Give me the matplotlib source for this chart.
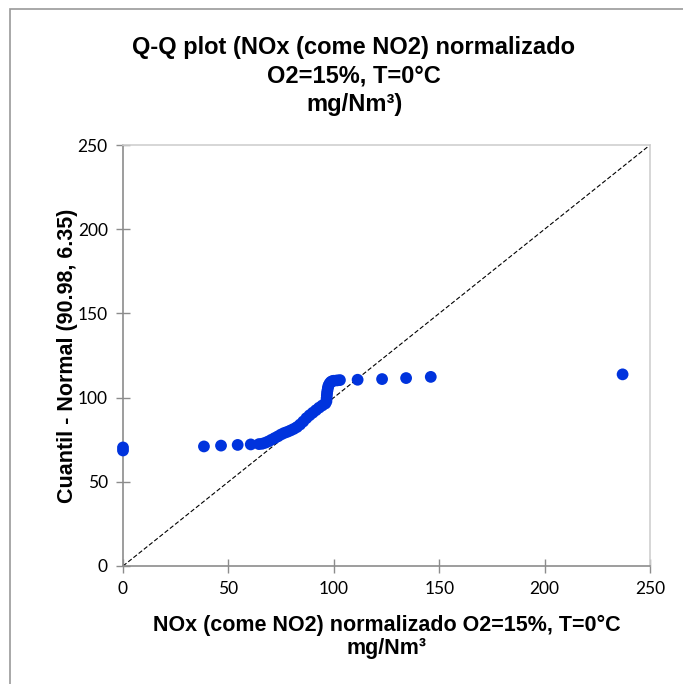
import matplotlib
matplotlib.use("Agg")
import matplotlib.pyplot as plt
from matplotlib.patches import Rectangle

# observed NOx values (sorted) and the matching normal quantiles N(90.98, 6.35)
nox_obs = [0, 0, 38.4, 46.5, 54.4, 60.6,
           64.5, 66, 67.5, 69, 70.5, 72, 73.5, 75, 76.5, 78, 79.5, 81,
           82.5, 84, 85.5, 87, 88.5, 90, 91.5, 93, 94.5, 96, 96.5, 96.6,
           96.7, 96.8, 97.0, 97.2, 97.5, 98.0, 98.6, 99.3, 100, 101.5,
           102.9, 111.3, 122.9, 134.3, 146.0, 237.0]
norm_q = [68.6, 70.4, 71.0, 71.5, 71.9, 72.2,
          72.4, 72.6, 73.2, 74.0, 75.0, 76.0, 77.0, 78.1, 79.0, 79.7, 80.5, 81.4,
          82.5, 84.0, 85.8, 87.8, 89.5, 91.0, 92.5, 94.0, 95.3, 96.5, 97.8, 99.5,
          101.2, 102.8, 104.3, 105.8, 107.2, 108.4, 109.3, 109.8, 110.0, 110.2,
          110.4, 110.6, 111.0, 111.6, 112.3, 113.8]

ticks = [0, 50, 100, 150, 200, 250]

title = "Q-Q plot (NOx (come NO2) normalizado\nO2=15%, T=0°C\nmg/Nm³)"
xlabel = "NOx (come NO2) normalizado O2=15%, T=0°C\nmg/Nm³"
ylabel = "Cuantil - Normal (90.98, 6.35)"

fig = plt.figure(figsize=(6.83, 6.84), dpi=100)
W, H = 683, 684

# outer chart frame (cut off at right/bottom like the screenshot)
fig.patches.append(Rectangle((10 / W, -0.05), 1.1, 1 - 9 / H + 0.05,
                             transform=fig.transFigure, fill=False,
                             edgecolor="#999999", linewidth=1.2))

ax = fig.add_axes([123 / W, (H - 566) / H, 527 / W, 421 / H])

ax.plot([0, 250], [0, 250], color="black", linestyle=(0, (4, 2)), linewidth=0.8, zorder=2)
ax.scatter(nox_obs, norm_q, s=72, color="#0033dd", edgecolors="none", zorder=3, clip_on=False)

ax.set_xlim(0, 250)
ax.set_ylim(0, 250)
ax.set_xticks(ticks)
ax.set_yticks(ticks)

tick_font = {"family": "Lato", "size": 12.5}
ax.set_xticklabels([str(t) for t in ticks], fontdict=tick_font)
ax.set_yticklabels([str(t) for t in ticks], fontdict=tick_font)
ax.tick_params(direction="inout", length=10, width=1, color="#8c8c8c", pad=6)

for side in ["left", "bottom"]:
    ax.spines[side].set_color("#8c8c8c")
    ax.spines[side].set_linewidth(1.2)
for side in ["top", "right"]:
    ax.spines[side].set_color("#d0d0d0")
    ax.spines[side].set_linewidth(1.2)

lab_font = {"family": "Liberation Sans", "weight": "bold", "size": 15.5}
ax.set_xlabel(xlabel, fontdict=lab_font, labelpad=13, linespacing=1.1)
ax.set_ylabel(ylabel, fontdict=lab_font, labelpad=0)

fig.text(354 / W, 1 - 36 / H, title, ha="center", va="top",
         family="Liberation Sans", weight="bold", fontsize=17, linespacing=1.3)

fig.savefig("out.png", dpi=100)
